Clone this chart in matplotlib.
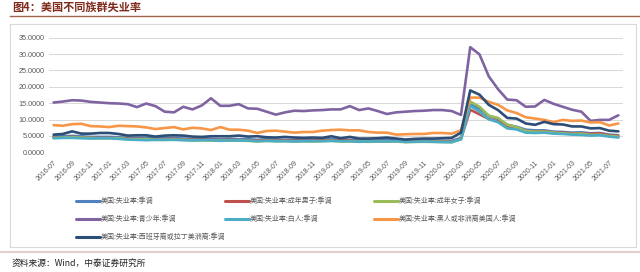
import matplotlib
matplotlib.use("Agg")
import matplotlib.pyplot as plt
import pandas as pd
from matplotlib.patches import Rectangle
from matplotlib.lines import Line2D

plt.rcParams['font.family'] = ['Noto Sans CJK SC', 'DejaVu Sans']

# monthly, 2016-07 .. 2021-08
months = pd.date_range('2016-07-01', periods=62, freq='MS').strftime('%Y-%m').tolist()

total = [4.9, 4.9, 5.0, 4.9, 4.7, 4.7,
         4.7, 4.6, 4.4, 4.4, 4.4, 4.3, 4.3, 4.4, 4.2, 4.1, 4.2, 4.1,
         4.0, 4.1, 4.0, 4.0, 3.8, 4.0, 3.8, 3.8, 3.7, 3.8, 3.8, 3.9,
         4.0, 3.8, 3.8, 3.6, 3.6, 3.6, 3.7, 3.7, 3.5, 3.6, 3.6, 3.6,
         3.5, 3.5, 4.4, 14.7, 13.3, 11.1, 10.2, 8.4, 7.8, 6.9, 6.7, 6.7,
         6.3, 6.2, 6.0, 6.1, 5.8, 5.9, 5.4, 5.2]
men = [4.5, 4.6, 4.7, 4.6, 4.4, 4.4,
       4.4, 4.3, 4.1, 4.1, 4.0, 4.0, 4.0, 4.1, 3.9, 3.8, 3.8, 3.8,
       3.7, 3.8, 3.7, 3.7, 3.6, 3.7, 3.5, 3.6, 3.5, 3.5, 3.5, 3.7,
       3.7, 3.6, 3.6, 3.3, 3.4, 3.4, 3.4, 3.4, 3.2, 3.3, 3.3, 3.3,
       3.3, 3.2, 4.1, 13.0, 11.6, 10.2, 9.4, 8.0, 7.4, 6.5, 6.4, 6.4,
       6.0, 6.0, 5.8, 5.8, 5.6, 5.8, 5.2, 5.0]
women = [4.4, 4.5, 4.6, 4.5, 4.4, 4.3,
         4.3, 4.3, 4.0, 4.0, 4.0, 3.8, 3.8, 3.9, 3.8, 3.7, 3.7, 3.6,
         3.6, 3.6, 3.6, 3.5, 3.3, 3.5, 3.4, 3.4, 3.3, 3.4, 3.3, 3.4,
         3.5, 3.3, 3.3, 3.3, 3.2, 3.3, 3.3, 3.3, 3.1, 3.2, 3.2, 3.2,
         3.2, 3.1, 4.0, 15.5, 13.9, 11.2, 10.5, 8.4, 7.7, 6.5, 6.3, 6.3,
         6.0, 5.8, 5.6, 5.7, 5.3, 5.4, 5.0, 4.8]
teen = [15.2, 15.5, 15.9, 15.8, 15.4, 15.2,
        15.0, 14.9, 14.7, 13.8, 14.9, 14.1, 12.4, 12.2, 13.9, 13.1, 14.3, 16.5,
        14.2, 14.2, 14.7, 13.4, 13.3, 12.4, 11.5, 12.2, 12.7, 12.6, 12.8, 12.9,
        13.1, 13.1, 14.1, 12.9, 13.4, 12.6, 11.7, 12.2, 12.4, 12.6, 12.7, 12.9,
        12.9, 12.6, 11.4, 32.1, 29.9, 23.2, 19.3, 16.1, 15.9, 13.9, 14.0, 16.0,
        14.8, 13.9, 13.0, 12.4, 9.6, 9.9, 9.9, 11.3]
white = [4.3, 4.4, 4.4, 4.3, 4.2, 4.3,
         4.3, 4.1, 3.9, 3.8, 3.7, 3.8, 3.8, 3.8, 3.7, 3.6, 3.7, 3.7,
         3.5, 3.6, 3.6, 3.6, 3.4, 3.5, 3.4, 3.4, 3.3, 3.4, 3.4, 3.4,
         3.5, 3.4, 3.4, 3.2, 3.3, 3.3, 3.3, 3.4, 3.2, 3.2, 3.3, 3.2,
         3.1, 3.1, 4.0, 14.2, 12.4, 10.1, 9.2, 7.3, 7.0, 6.0, 5.9, 6.0,
         5.7, 5.6, 5.4, 5.3, 5.1, 5.2, 4.8, 4.5]
black = [8.3, 8.1, 8.6, 8.7, 8.0, 7.9,
         7.7, 8.1, 8.0, 7.9, 7.6, 7.1, 7.4, 7.7, 7.0, 7.5, 7.3, 6.8,
         7.7, 6.9, 6.9, 6.6, 5.9, 6.5, 6.6, 6.3, 6.0, 6.2, 6.2, 6.6,
         6.8, 6.9, 6.7, 6.7, 6.2, 6.0, 6.0, 5.4, 5.5, 5.6, 5.6, 5.9,
         5.9, 5.7, 6.7, 16.7, 16.7, 15.4, 14.5, 12.8, 12.0, 10.7, 10.3, 9.9,
         9.2, 9.9, 9.6, 9.7, 9.1, 9.2, 8.2, 8.8]
hispanic = [5.4, 5.6, 6.4, 5.7, 5.7, 5.9,
            5.9, 5.6, 5.1, 5.2, 5.2, 4.8, 5.1, 5.2, 5.1, 4.8, 4.7, 4.9,
            4.9, 4.9, 5.1, 4.8, 4.9, 4.6, 4.5, 4.7, 4.5, 4.4, 4.5, 4.4,
            4.9, 4.3, 4.7, 4.2, 4.2, 4.3, 4.5, 4.2, 3.9, 4.1, 4.2, 4.2,
            4.3, 4.4, 6.0, 18.9, 17.6, 14.5, 12.9, 10.5, 10.3, 8.8, 8.4, 9.3,
            8.6, 8.5, 7.9, 7.9, 7.3, 7.4, 6.6, 6.4]

labels = ['美国:失业率:季调', '美国:失业率:成年男子:季调', '美国:失业率:成年女子:季调',
          '美国:失业率:青少年:季调', '美国:失业率:白人:季调',
          '美国:失业率:黑人或非洲裔美国人:季调', '美国:失业率:西班牙裔或拉丁美洲裔:季调']
colors = ['#4F81BD', '#C0504D', '#9BBB59', '#8064A2', '#4BACC6', '#F79646', '#2C4D75']
series = [total, men, women, teen, white, black, hispanic]

W, H = 640, 272
fig = plt.figure(figsize=(6.4, 2.72), dpi=100)

# title and frame decorations
fig.text(12 / W, 1 - 7 / H, '图4：美国不同族群失业率', fontsize=8, fontweight='bold',
         color='#7F2A1B', ha='left', va='center')
fig.add_artist(Line2D([10 / W, 1], [1 - 16 / H, 1 - 16 / H], color='#A0624A', lw=1.0))
fig.add_artist(Rectangle((10 / W, 1 - 247 / H), 626 / W, 223 / H, fill=False,
                         edgecolor='#D9D9D9', lw=0.8))
fig.add_artist(Line2D([0, 1], [1 - 252 / H, 1 - 252 / H], color='#E3CFC7', lw=1.5))
fig.text(12 / W, 1 - 263 / H, '资料来源：Wind，中泰证券研究所', fontsize=6.3,
         style='italic', color='#222222', ha='left', va='center')

ax = fig.add_axes([49 / W, 1 - 152.3 / H, (623 - 49) / W, (152.3 - 37.7) / H])
x = list(range(len(months)))
lines = []
for vals, c, lab in zip(series, colors, labels):
    ln, = ax.plot(x, vals, color=c, lw=1.9, label=lab, solid_capstyle='round')
    lines.append(ln)

ax.set_xlim(-0.5, len(months) - 0.5)
ax.set_ylim(0, 35)
ax.set_yticks(range(0, 36, 5))
ax.set_yticklabels([f'{v:.4f}' for v in range(0, 36, 5)], fontsize=5.2,
                   family='Liberation Sans', color='#595959')
ax.set_xticks(x[::2])
ax.set_xticklabels(months[::2], rotation=45, ha='right', rotation_mode='anchor',
                   fontsize=5, family='Liberation Sans', color='#595959')
ax.tick_params(length=0, pad=3)
ax.tick_params(axis='x', pad=5)
ax.grid(axis='y', color='#D9D9D9', lw=0.75)
ax.set_axisbelow(True)
for s in ax.spines.values():
    s.set_visible(False)

# legend: three columns laid out like the Excel legend
cols = [[0, 3, 6], [1, 4], [2, 5]]
col_x = [76, 225, 374]
for idx, cx in zip(cols, col_x):
    leg = fig.legend([lines[i] for i in idx], [labels[i] for i in idx],
                     loc='upper left', bbox_to_anchor=(cx / W, 1 - 197 / H),
                     frameon=False, fontsize=5, handlelength=3.4,
                     handletextpad=0.15, labelspacing=1.45, borderpad=0,
                     borderaxespad=0)
    for t in leg.get_texts():
        t.set_color('#595959')
    for h in leg.legend_handles:
        h.set_linewidth(2.2)

fig.savefig('out.png', dpi=100)
